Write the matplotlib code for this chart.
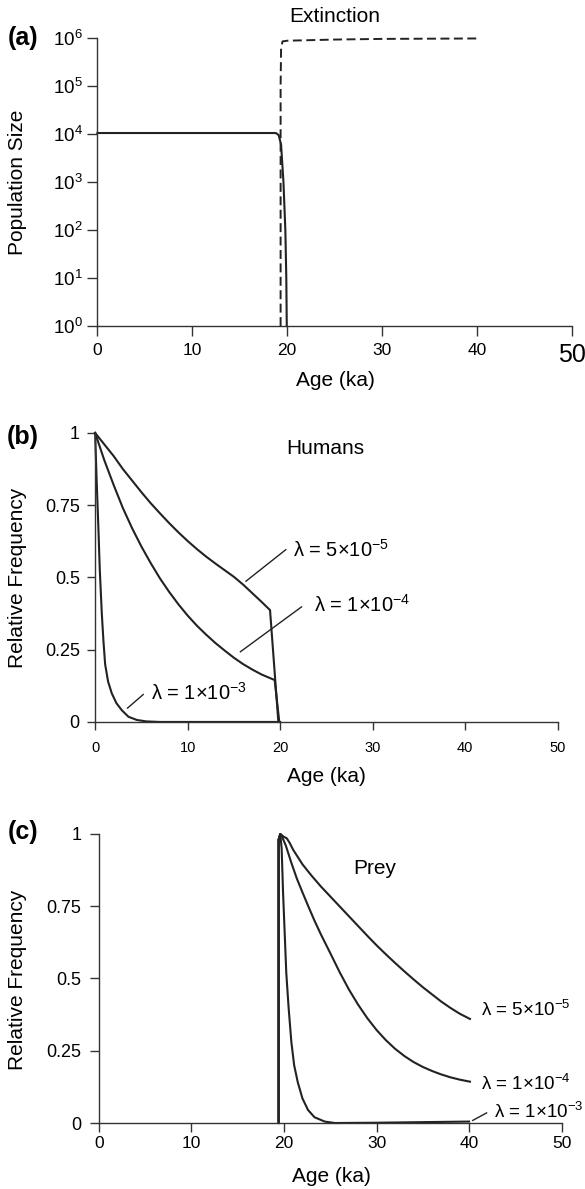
import numpy as np
import matplotlib.pyplot as plt

plt.rcParams['font.family'] = ['Liberation Sans', 'DejaVu Sans']
plt.rcParams['mathtext.fontset'] = 'custom'
plt.rcParams['mathtext.rm'] = 'Liberation Sans'
plt.rcParams['mathtext.it'] = 'Liberation Sans:italic'
plt.rcParams['mathtext.default'] = 'regular'

# (a) population size
age_hum_a = [0, 5, 10, 15, 18.8, 19.1, 19.35, 19.6, 19.8, 19.9, 19.95]
pop_hum_a = [1.05e4, 1.05e4, 1.05e4, 1.05e4, 1.05e4, 9.5e3, 6e3, 1e3, 100, 10, 1]
age_prey_a = [19.3, 19.3, 19.35, 19.5, 20, 25, 30, 40]
pop_prey_a = [1, 1e5, 6e5, 8.5e5, 8.8e5, 9.3e5, 9.6e5, 9.8e5]

# (b) humans
age_b5 = [0, 1, 2, 3, 4, 5, 6, 7, 8, 9, 10, 11, 12, 13, 14, 15, 16, 17, 18, 18.9, 19.8]
freq_b5 = [1, .96, .92, .875, .835, .795, .757, .722, .688, .656, .626, .598, .572, .548,
           .525, .502, .475, .445, .415, .387, 0]
age_b4 = [0, 1, 2, 3, 4, 5, 6, 7, 8, 9, 10, 11, 12, 13, 14, 15, 16, 17, 18, 19.4, 19.9]
freq_b4 = [1, .905, .82, .74, .67, .607, .55, .497, .45, .407, .368, .333, .302, .273,
           .247, .222, .2, .181, .164, .145, 0]
age_b3 = [0, 0.15, 0.36, 0.5, 0.72, 0.9, 1.08, 1.4, 1.8, 2.3, 2.9, 3.6, 4.5, 5.5, 7, 20]
freq_b3 = [1, .85, .665, .53, .376, .28, .2, .14, .099, .065, .04, .018, .007, .002, 0, 0]

# (c) prey
age_c5 = [19.42, 19.42, 19.6, 19.8, 20.0, 20.3, 20.6, 21, 21.5, 22, 23, 24, 25, 26, 27,
          28, 29, 30, 31, 32, 33, 34, 35, 36, 37, 38, 39, 40.1]
freq_c5 = [0, .98, 1.0, .995, .99, .985, .97, .945, .92, .895, .855, .818, .784, .75, .716,
           .682, .648, .615, .584, .554, .525, .497, .47, .445, .42, .398, .378, .36]
age_c4 = [19.42, 19.42, 19.6, 19.8, 20.2, 20.8, 21.4, 22, 22.6, 23.3, 24, 25, 26, 27, 28,
          29, 30, 31, 32, 33, 34, 35, 36, 37, 38, 39, 40.1]
freq_c4 = [0, .98, 1.0, .99, .96, .9, .845, .798, .752, .7, .652, .588, .523, .463, .41,
           .363, .322, .287, .257, .232, .211, .194, .18, .168, .158, .15, .143]
age_c3 = [19.42, 19.42, 19.6, 19.75, 19.9, 20.05, 20.25, 20.5, 20.8, 21.1, 21.5, 22, 22.6,
          23.3, 24.4, 25.5, 30, 40]
freq_c3 = [0, .98, 1.0, .95, .8, .68, .52, .4, .28, .2, .14, .085, .045, .02, .005, 0,
           .001, .005]

lam_labels = [r'λ = 5×10$^{-5}$', r'λ = 1×10$^{-4}$', r'λ = 1×10$^{-3}$']

spine_col = '#333333'
line_col = '#222222'
lw = 1.5


def style(ax, ticklen, xsize, ysize, xpad, ypad):
    for s in ['top', 'right']:
        ax.spines[s].set_visible(False)
    for s in ['left', 'bottom']:
        ax.spines[s].set_color(spine_col)
        ax.spines[s].set_linewidth(1.0)
    ax.tick_params(direction='out', length=ticklen, width=1.0, color=spine_col)
    ax.tick_params(axis='x', labelsize=xsize, pad=xpad)
    ax.tick_params(axis='y', labelsize=ysize, pad=ypad)
    ax.set_xlim(0, 50)
    ax.set_xticks([0, 10, 20, 30, 40, 50])


fig = plt.figure(figsize=(5.85, 11.89), dpi=100)

# panel a
ax1 = fig.add_axes([0.1665, 0.7258, 0.8113, 0.2422])
ax1.plot(age_hum_a, pop_hum_a, color=line_col, lw=lw, clip_on=False)
ax1.plot(age_prey_a, pop_prey_a, color=line_col, lw=1.4, ls=(0, (4.6, 2.3)), clip_on=False)
ax1.set_yscale('log')
ax1.set_ylim(1, 1e6)
style(ax1, 7, 12.5, 13.5, 5, 3.5)
ax1.set_yticks([10**k for k in range(7)])
ax1.set_yticklabels([r'$10^{%d}$' % k for k in range(7)])
ax1.minorticks_off()
ax1.get_xticklabels()[-1].set_fontsize(18)
ax1.text(25, 1.076, 'Extinction', transform=ax1.get_xaxis_transform(),
         ha='center', va='center', fontsize=15)

# panel b
ax2 = fig.add_axes([0.1626, 0.3928, 0.791, 0.2431])
ax2.plot(age_b5, freq_b5, color=line_col, lw=lw, clip_on=False)
ax2.plot(age_b4, freq_b4, color=line_col, lw=lw, clip_on=False)
ax2.plot(age_b3, freq_b3, color=line_col, lw=lw, clip_on=False)
ax2.set_ylim(0, 1)
style(ax2, 6, 10.5, 13, 7.5, 5)
ax2.set_yticks([0, 0.25, 0.5, 0.75, 1])
ax2.set_yticklabels(['0', '0.25', '0.5', '0.75', '1'])
ax2.text(24.9, 0.945, 'Humans', ha='center', va='center', fontsize=15)
ax2.plot([16.3, 20.6], [0.487, 0.596], color=line_col, lw=1.0)
ax2.text(21.4, 0.596, lam_labels[0], ha='left', va='center', fontsize=14.5)
ax2.plot([15.7, 22.3], [0.243, 0.398], color=line_col, lw=1.0)
ax2.text(23.6, 0.406, lam_labels[1], ha='left', va='center', fontsize=14.5)
ax2.plot([3.5, 5.2], [0.048, 0.095], color=line_col, lw=1.0)
ax2.text(6.0, 0.10, lam_labels[2], ha='left', va='center', fontsize=14.5)

# panel c
ax3 = fig.add_axes([0.169, 0.0555, 0.791, 0.2431])
ax3.plot(age_c5, freq_c5, color=line_col, lw=lw, clip_on=False)
ax3.plot(age_c4, freq_c4, color=line_col, lw=lw, clip_on=False)
ax3.plot(age_c3, freq_c3, color=line_col, lw=lw, clip_on=False)
ax3.set_ylim(0, 1)
style(ax3, 6.5, 12.5, 13, 2.5, 6)
ax3.set_yticks([0, 0.25, 0.5, 0.75, 1])
ax3.set_yticklabels(['0', '0.25', '0.5', '0.75', '1'])
ax3.text(29.8, 0.882, 'Prey', ha='center', va='center', fontsize=15)
ax3.text(41.3, 0.39, lam_labels[0], ha='left', va='center', fontsize=13.5)
ax3.text(41.3, 0.136, lam_labels[1], ha='left', va='center', fontsize=13.5)
ax3.plot([40.4, 41.9], [0.009, 0.035], color=line_col, lw=1.0)
ax3.text(42.7, 0.038, lam_labels[2], ha='left', va='center', fontsize=13.5)

# panel letters and axis labels
H = 1189.0
W = 585.0
for lab, y in [('(a)', 38), ('(b)', 437), ('(c)', 832)]:
    fig.text(23 / W, 1 - y / H, lab, ha='center', va='center', fontsize=18, fontweight='bold')
for y, lab in [(182.5, 'Population Size'), (578, 'Relative Frequency'), (980, 'Relative Frequency')]:
    fig.text(18 / W, 1 - y / H, lab, rotation=90, ha='center', va='center', fontsize=15)
for x, y in [(335, 380), (326, 776), (331, 1177)]:
    fig.text(x / W, 1 - y / H, 'Age (ka)', ha='center', va='center', fontsize=15)

fig.savefig('out.png', dpi=100)
